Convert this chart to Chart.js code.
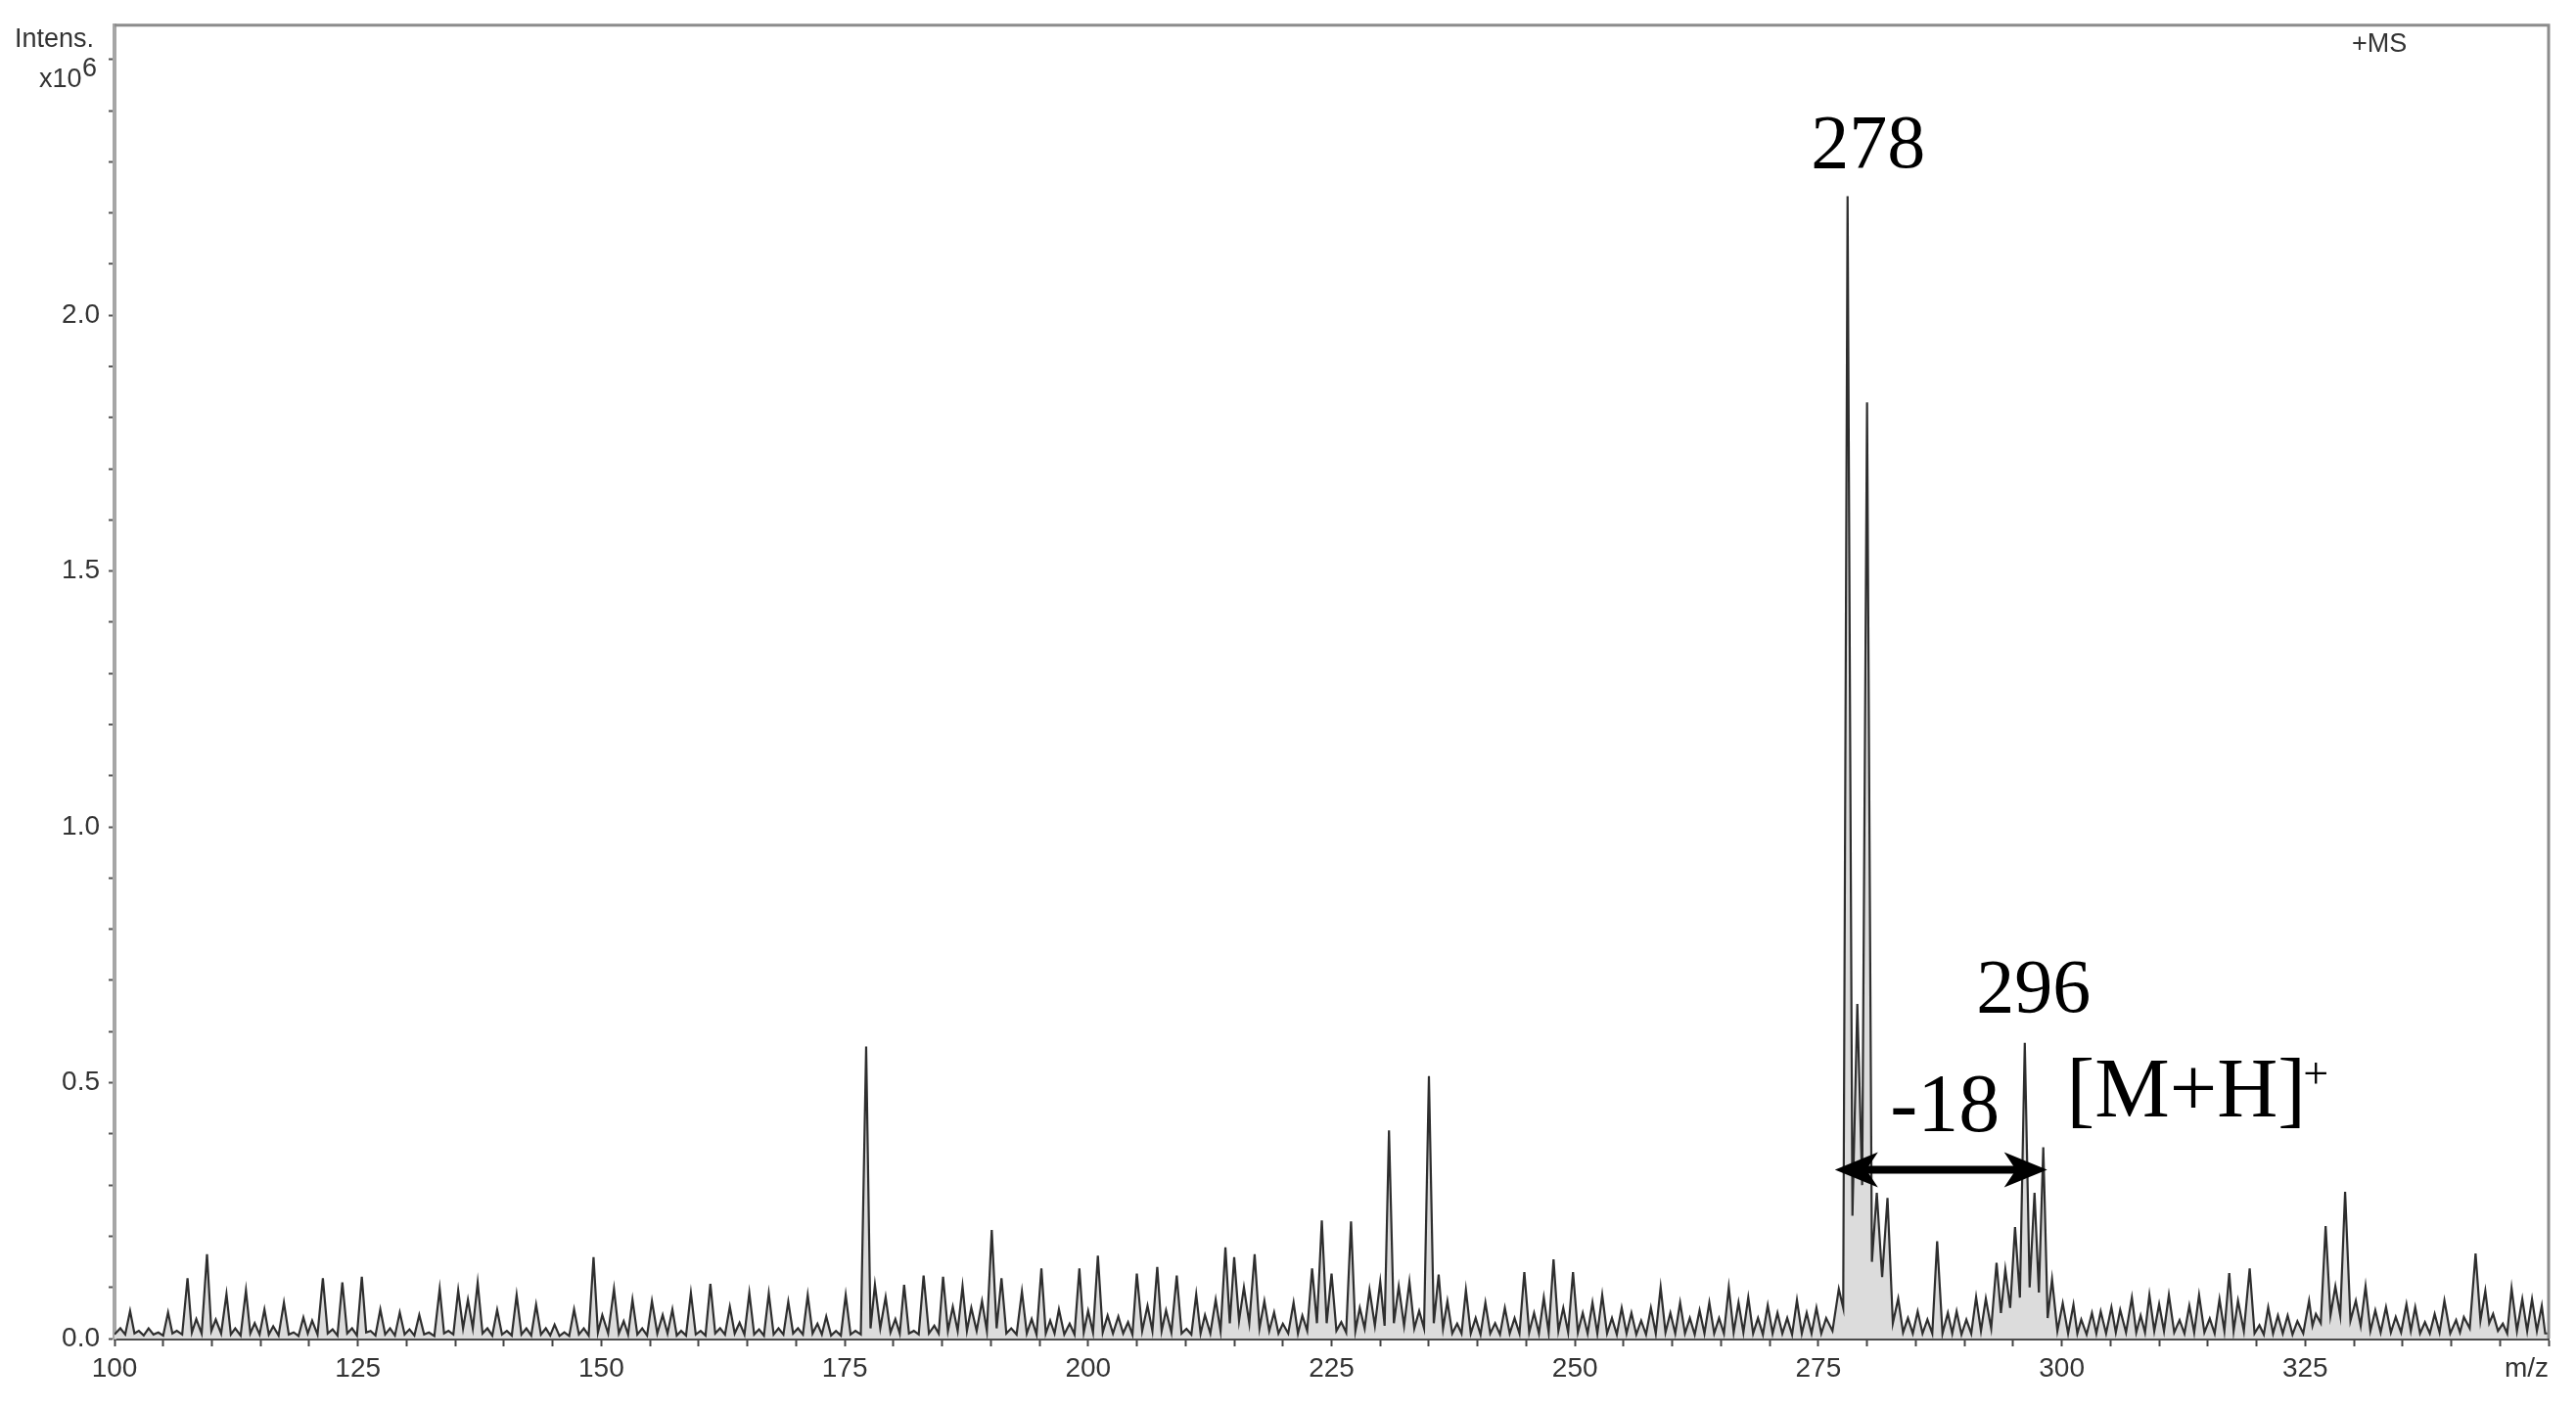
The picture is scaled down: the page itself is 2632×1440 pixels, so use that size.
<!DOCTYPE html>
<html>
<head>
<meta charset="utf-8">
<title>+MS spectrum</title>
<script src="https://cdn.jsdelivr.net/npm/chart.js@4.4.1/dist/chart.umd.min.js"></script>
<style>
  html, body { margin: 0; padding: 0; background: #fff; }
  #wrap { width: 2632px; height: 1440px; position: relative; }
</style>
</head>
<body>
<div id="wrap"><canvas id="ms"></canvas></div>
<script>
/* ── AXES ───────────────────────────────────────────────────────── */
const MZ_MIN = 100, MZ_MAX = 350;
const INT_MAX = 2.567;            // top of the frame, intensity x10^6
const X_TICK_STEP = 5, X_LABEL_STEP = 25;
const Y_TICK_STEP = 0.1, Y_LABEL_STEP = 0.5;
const Y_LABEL_LAST = 2.0;         // no label on 2.5, the exponent sits there

/* ── SPECTRUM (intensity x10^6) ─────────────────────────────────── */
// peak centres (m/z)
const peakMz = [
  100.6, 101.6, 102.5, 103.5, 104.5, 105.5, 106.4, 107.5, 108.4, 109.5,
  110.4, 111.5, 112.4, 113.5, 114.4, 115.4, 116.3, 117.4, 118.4, 119.4,
  120.3, 121.4, 122.4, 123.4, 124.4, 125.4, 126.3, 127.3, 128.3, 129.3,
  130.3, 131.3, 132.3, 133.4, 134.3, 135.3, 136.3, 137.3, 138.3, 139.3,
  140.3, 141.3, 142.3, 143.3, 144.3, 145.2, 146.2, 147.2, 148.2, 149.2,
  150.1, 151.3, 152.3, 153.2, 154.2, 155.2, 156.3, 157.3, 158.2, 159.2,
  160.2, 161.2, 162.2, 163.2, 164.2, 165.2, 166.2, 167.2, 168.2, 169.2,
  170.2, 171.2, 172.2, 173.1, 174.1, 175.1, 176.1, 177.2, 178.1, 179.2,
  180.2, 181.1, 182.1, 183.1, 184.2, 185.1, 186.1, 187.1, 188.0, 189.1,
  190.1, 191.1, 192.1, 193.2, 194.2, 195.2, 196.1, 197.0, 198.1, 199.1,
  200.0, 201.0, 202.0, 203.1, 204.1, 205.0, 206.1, 207.1, 208.0, 209.1,
  210.1, 211.1, 212.0, 213.1, 214.1, 215.0, 216.0, 217.1, 218.1, 219.1,
  220.0, 221.1, 222.0, 223.0, 224.0, 225.0, 226.0, 227.0, 227.9, 228.9,
  230.0, 230.9, 231.9, 233.0, 234.0, 235.0, 236.0, 236.9, 237.9, 238.8,
  239.8, 240.8, 241.8, 242.8, 243.8, 244.8, 245.8, 246.8, 247.8, 248.8,
  249.8, 250.8, 251.8, 252.8, 253.8, 254.8, 255.8, 256.8, 257.8, 258.8,
  259.8, 260.8, 261.8, 262.8, 263.8, 264.8, 265.8, 266.8, 267.8, 268.8,
  269.8, 270.8, 271.8, 272.8, 273.8, 274.8, 275.8, 277.1, 278.0, 279.0,
  280.0, 281.0, 282.1, 283.2, 284.2, 285.2, 286.2, 287.2, 288.3, 289.2,
  290.2, 291.2, 292.2, 293.3, 294.2, 295.2, 296.2, 297.2, 298.1, 299.0,
  300.1, 301.2, 302.0, 303.1, 304.0, 305.1, 306.0, 307.2, 308.1, 309.0,
  310.0, 311.0, 312.1, 313.1, 314.1, 315.2, 316.2, 317.2, 318.1, 319.3,
  320.3, 321.2, 322.2, 323.2, 324.2, 325.4, 326.1, 327.1, 328.1, 329.1,
  330.2, 331.2, 332.2, 333.3, 334.3, 335.4, 336.3, 337.3, 338.3, 339.3,
  340.5, 341.3, 342.5, 343.5, 344.3, 345.3, 346.2, 347.3, 348.3, 349.3,
];

// peak heights
const peakInt = [
  0.020, 0.054, 0.015, 0.020, 0.012, 0.051, 0.015, 0.118, 0.038, 0.165,
  0.037, 0.087, 0.020, 0.094, 0.030, 0.057, 0.024, 0.070, 0.012, 0.041,
  0.035, 0.118, 0.018, 0.110, 0.020, 0.121, 0.015, 0.057, 0.020, 0.051,
  0.018, 0.046, 0.012, 0.097, 0.015, 0.094, 0.076, 0.109, 0.020, 0.056,
  0.015, 0.085, 0.020, 0.066, 0.020, 0.027, 0.012, 0.057, 0.020, 0.159,
  0.046, 0.097, 0.034, 0.076, 0.020, 0.073, 0.046, 0.057, 0.015, 0.089,
  0.015, 0.107, 0.020, 0.062, 0.031, 0.089, 0.018, 0.088, 0.020, 0.072,
  0.020, 0.085, 0.029, 0.043, 0.015, 0.085, 0.015, 0.571, 0.105, 0.081,
  0.038, 0.105, 0.015, 0.123, 0.025, 0.121, 0.062, 0.102, 0.060, 0.073,
  0.212, 0.118, 0.020, 0.092, 0.038, 0.137, 0.035, 0.057, 0.029, 0.137,
  0.054, 0.162, 0.045, 0.043, 0.032, 0.127, 0.064, 0.140, 0.055, 0.123,
  0.019, 0.086, 0.046, 0.076, 0.178, 0.159, 0.100, 0.165, 0.073, 0.051,
  0.029, 0.070, 0.045, 0.137, 0.231, 0.127, 0.032, 0.229, 0.060, 0.095,
  0.111, 0.407, 0.102, 0.111, 0.054, 0.513, 0.125, 0.073, 0.029, 0.095,
  0.040, 0.070, 0.030, 0.060, 0.040, 0.130, 0.050, 0.080, 0.155, 0.060,
  0.130, 0.050, 0.070, 0.085, 0.040, 0.060, 0.050, 0.035, 0.060, 0.100,
  0.050, 0.070, 0.040, 0.055, 0.070, 0.040, 0.100, 0.070, 0.080, 0.040,
  0.065, 0.050, 0.040, 0.075, 0.050, 0.060, 0.040, 0.097, 2.233, 0.654,
  1.830, 0.285, 0.275, 0.078, 0.040, 0.053, 0.037, 0.190, 0.050, 0.053,
  0.037, 0.081, 0.078, 0.148, 0.135, 0.218, 0.578, 0.285, 0.374, 0.116,
  0.069, 0.066, 0.037, 0.050, 0.053, 0.061, 0.056, 0.080, 0.045, 0.085,
  0.067, 0.085, 0.036, 0.064, 0.085, 0.039, 0.077, 0.128, 0.074, 0.137,
  0.026, 0.061, 0.045, 0.045, 0.034, 0.074, 0.048, 0.220, 0.102, 0.287,
  0.074, 0.102, 0.055, 0.061, 0.042, 0.067, 0.061, 0.032, 0.048, 0.074,
  0.036, 0.042, 0.166, 0.093, 0.048, 0.029, 0.098, 0.077, 0.077, 0.064,
];

// level of the dip that follows each peak
const valleyInt = [
  0.008, 0.010, 0.006, 0.008, 0.006, 0.010, 0.008, 0.012, 0.010, 0.015,
  0.010, 0.008, 0.006, 0.010, 0.008, 0.008, 0.006, 0.008, 0.005, 0.010,
  0.008, 0.010, 0.006, 0.010, 0.006, 0.012, 0.006, 0.008, 0.006, 0.008,
  0.006, 0.008, 0.005, 0.010, 0.008, 0.020, 0.020, 0.010, 0.006, 0.008,
  0.006, 0.008, 0.006, 0.008, 0.006, 0.005, 0.005, 0.008, 0.006, 0.012,
  0.010, 0.010, 0.008, 0.008, 0.006, 0.010, 0.010, 0.006, 0.006, 0.008,
  0.006, 0.010, 0.008, 0.010, 0.008, 0.008, 0.006, 0.008, 0.008, 0.010,
  0.008, 0.010, 0.008, 0.006, 0.006, 0.008, 0.008, 0.020, 0.020, 0.012,
  0.010, 0.010, 0.008, 0.010, 0.010, 0.015, 0.015, 0.015, 0.015, 0.015,
  0.020, 0.010, 0.008, 0.010, 0.008, 0.010, 0.010, 0.008, 0.008, 0.012,
  0.012, 0.012, 0.010, 0.010, 0.008, 0.015, 0.015, 0.015, 0.012, 0.010,
  0.008, 0.010, 0.010, 0.015, 0.030, 0.035, 0.030, 0.020, 0.015, 0.010,
  0.010, 0.010, 0.015, 0.030, 0.030, 0.015, 0.012, 0.015, 0.020, 0.025,
  0.025, 0.030, 0.025, 0.020, 0.020, 0.030, 0.020, 0.010, 0.010, 0.010,
  0.008, 0.010, 0.008, 0.010, 0.010, 0.012, 0.010, 0.012, 0.015, 0.012,
  0.012, 0.010, 0.010, 0.010, 0.008, 0.010, 0.008, 0.008, 0.010, 0.012,
  0.010, 0.010, 0.008, 0.010, 0.010, 0.010, 0.012, 0.012, 0.010, 0.008,
  0.010, 0.010, 0.008, 0.010, 0.010, 0.010, 0.015, 0.060, 0.240, 0.300,
  0.150, 0.120, 0.030, 0.012, 0.010, 0.010, 0.010, 0.010, 0.010, 0.008,
  0.010, 0.015, 0.020, 0.050, 0.060, 0.080, 0.100, 0.090, 0.040, 0.015,
  0.010, 0.010, 0.008, 0.010, 0.010, 0.012, 0.012, 0.012, 0.012, 0.015,
  0.015, 0.012, 0.010, 0.012, 0.012, 0.010, 0.015, 0.015, 0.015, 0.010,
  0.008, 0.010, 0.010, 0.008, 0.010, 0.025, 0.030, 0.045, 0.045, 0.035,
  0.025, 0.015, 0.012, 0.012, 0.012, 0.015, 0.010, 0.010, 0.012, 0.010,
  0.012, 0.020, 0.035, 0.030, 0.015, 0.010, 0.015, 0.015, 0.015, 0.010,
];

// level at the two ends of the m/z window
const edgeInt = [0.008, 0.010];

/* ── PROFILE POINTS ─────────────────────────────────────────────── */
const profile = [{ x: MZ_MIN, y: edgeInt[0] }];
peakMz.forEach((mz, i) => {
  profile.push({ x: mz, y: peakInt[i] });
  const next = i + 1 < peakMz.length ? peakMz[i + 1] : MZ_MAX;
  profile.push({ x: (mz + next) / 2, y: valleyInt[i] });
});
profile.push({ x: MZ_MAX, y: edgeInt[1] });

/* ── DECORATION: frame, header texts, annotations ───────────────── */
const SANS = '"Liberation Sans", Arial, sans-serif';
const SERIF = '"Liberation Serif", "Times New Roman", serif';

const spectrumDecor = {
  id: 'spectrumDecor',
  afterDraw(chart) {
    const { ctx, chartArea: a, scales: { x, y } } = chart;
    ctx.save();

    // top + right frame
    ctx.strokeStyle = '#8c8c8c';
    ctx.lineWidth = 3;
    ctx.beginPath();
    ctx.moveTo(a.left, a.top);
    ctx.lineTo(a.right, a.top);
    ctx.lineTo(a.right, a.bottom);
    ctx.stroke();

    // instrument texts
    ctx.fillStyle = '#333';
    ctx.textBaseline = 'alphabetic';
    ctx.textAlign = 'left';
    ctx.font = `27px ${SANS}`;
    ctx.fillText('Intens.', 15, 48);
    ctx.fillText('x10', 40, 89);
    ctx.fillText('6', 84, 78);
    ctx.fillText('+MS', 2403, 53);
    ctx.font = `28px ${SANS}`;
    ctx.textAlign = 'right';
    ctx.fillText('m/z', a.right, 1407);

    // peak annotations
    ctx.fillStyle = '#000';
    ctx.textAlign = 'center';
    ctx.font = `78px ${SERIF}`;
    ctx.fillText('278', x.getPixelForValue(280.1), y.getPixelForValue(2.29));
    ctx.fillText('296', x.getPixelForValue(297.1), y.getPixelForValue(0.639));
    ctx.font = `84px ${SERIF}`;
    ctx.fillText('-18', x.getPixelForValue(288.0), y.getPixelForValue(0.406));
    ctx.textAlign = 'left';
    ctx.font = `86px ${SERIF}`;
    ctx.fillText('[M+H]', x.getPixelForValue(300.5), y.getPixelForValue(0.435));
    ctx.textAlign = 'center';
    ctx.font = `46px ${SERIF}`;
    ctx.fillText('+', x.getPixelForValue(326.1), y.getPixelForValue(0.49));

    // double-headed arrow (loss of water)
    const x1 = x.getPixelForValue(276.7), x2 = x.getPixelForValue(298.5);
    const ay = y.getPixelForValue(0.33);
    ctx.strokeStyle = '#000';
    ctx.lineWidth = 8;
    ctx.beginPath();
    ctx.moveTo(x1 + 30, ay);
    ctx.lineTo(x2 - 30, ay);
    ctx.stroke();
    const head = (tip, dir) => {
      ctx.beginPath();
      ctx.moveTo(tip, ay);
      ctx.lineTo(tip + dir * 44, ay - 18);
      ctx.lineTo(tip + dir * 32, ay);
      ctx.lineTo(tip + dir * 44, ay + 18);
      ctx.closePath();
      ctx.fill();
    };
    head(x1, 1);
    head(x2, -1);

    ctx.restore();
  }
};

/* ── CHART ──────────────────────────────────────────────────────── */
Chart.defaults.font.family = SANS;
Chart.defaults.color = '#333';

const onStep = (v, step) => Math.abs(v / step - Math.round(v / step)) < 1e-6;

new Chart(document.getElementById('ms'), {
  type: 'line',
  data: {
    datasets: [{
      data: profile,
      borderColor: '#2e2e2e',
      borderWidth: 2.2,
      backgroundColor: '#dcdcdc',
      fill: 'origin',
      tension: 0,
      pointRadius: 0,
    }]
  },
  options: {
    responsive: true,
    maintainAspectRatio: false,
    animation: false,
    events: [],
    layout: { padding: { top: 23, right: 28, left: 0, bottom: 0 } },
    plugins: { legend: { display: false }, tooltip: { enabled: false } },
    scales: {
      x: {
        type: 'linear',
        min: MZ_MIN,
        max: MZ_MAX,
        afterFit: s => { s.height = 72; },
        ticks: {
          stepSize: X_TICK_STEP,
          autoSkip: false,
          maxRotation: 0,
          padding: 6,
          color: '#333',
          font: { size: 28 },
          callback: v => (onStep(v, X_LABEL_STEP) && v < MZ_MAX) ? String(v) : '',
        },
        grid: { drawOnChartArea: false, drawTicks: true, tickLength: 8, tickColor: '#444', tickWidth: 2 },
        border: { display: true, color: '#4a4a4a', width: 3 },
      },
      y: {
        min: 0,
        max: INT_MAX,
        afterFit: s => { s.width = 117; },
        ticks: {
          stepSize: Y_TICK_STEP,
          includeBounds: false,
          autoSkip: false,
          padding: 9,
          color: '#333',
          font: { size: 28 },
          callback: v => (onStep(v, Y_LABEL_STEP) && v <= Y_LABEL_LAST + 1e-6) ? v.toFixed(1) : '',
        },
        grid: { drawOnChartArea: false, drawTicks: true, tickLength: 6, tickColor: '#555', tickWidth: 2 },
        border: { display: true, color: '#a6a6a6', width: 4 },
      }
    }
  },
  plugins: [spectrumDecor]
});
</script>
</body>
</html>
